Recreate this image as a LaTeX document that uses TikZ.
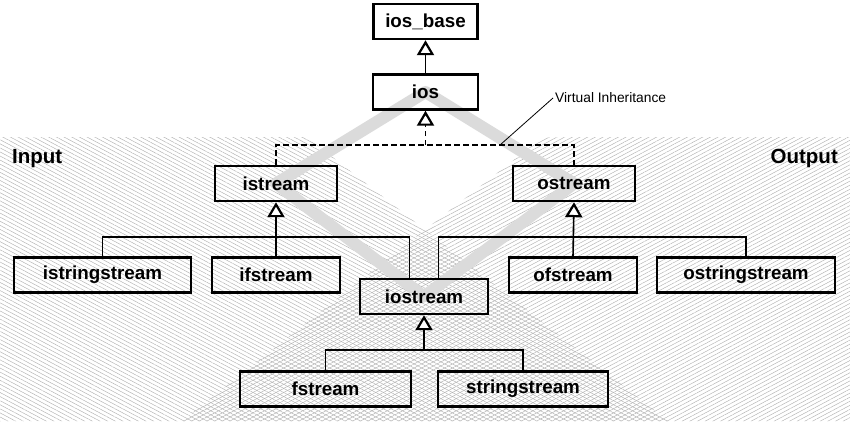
\documentclass[tikz,border=0pt]{standalone}
\usepackage{fontspec}
\setmainfont{Liberation Sans}
\usetikzlibrary{arrows.meta,patterns.meta,backgrounds}
\begin{document}
\begin{tikzpicture}[x=1pt,y=-1pt,
  box/.style={draw, line width=2.4pt, minimum height=35pt, inner sep=0pt,
    font=\fontsize{18.8}{20}\selectfont\bfseries},
  conn/.style={line width=1.6pt},
  tri/.tip={Triangle[open,fill=white,length=15pt,width=17pt,line width=2.2pt]},
  inh/.style={line width=1.6pt, -tri},
  vdash/.style={line width=1.6pt, dash pattern=on 5.5pt off 3.5pt},
  band/.style={draw=black!14, line width=12pt, line join=round},
  side/.style={font=\fontsize{20.5}{22}\selectfont\bfseries, inner sep=0pt},
  inhatch/.style={pattern={Lines[angle=-28,distance=3.6pt,line width=0.45pt]}, pattern color=black!30},
  outhatch/.style={pattern={Lines[angle=28,distance=3.6pt,line width=0.45pt]}, pattern color=black!30}]
\useasboundingbox (0,0) rectangle (850,421);

% hatched halves
\begin{scope}[on background layer]
  \fill[white] (0,0) rectangle (850,421);
  \path[inhatch] (0,137) -- (307,137) -- (668,421) -- (0,421) -- cycle;
  \path[outhatch] (850,137) -- (543,137) -- (182,421) -- (850,421) -- cycle;
\end{scope}

% boxes
\node[box, minimum width=104pt] (iosbase) at (425.5,21.5) {ios\_base};
\node[box, minimum width=105pt] (ios) at (425.5,92) {ios};
\node[box, minimum width=122pt] (istream) at (276,183.5) {istream};
\node[box, minimum width=122pt] (ostream) at (574,183.5) {ostream};
\node[box, minimum width=177pt] (istringstream) at (102.5,275) {istringstream};
\node[box, minimum width=128pt] (ifstream) at (276,275) {ifstream};
\node[box, minimum width=128pt] (ofstream) at (573,275) {ofstream};
\node[box, minimum width=178pt] (ostringstream) at (746,275) {ostringstream};
\node[box, minimum width=128pt] (iostream) at (424,296.5) {iostream};
\node[box, minimum width=171pt] (fstream) at (325.5,389) {fstream};
\node[box, minimum width=170pt] (stringstream) at (523,389) {stringstream};

% side labels
\node[side, anchor=base west] (input) at (12,163) {Input};
\node[side, anchor=base east] (output) at (838,163) {Output};

% diamond band
\begin{scope}[on background layer]
  \draw[band] (ios.center) -- (istream.center) -- (iostream.center) -- (ostream.center) -- cycle;
\end{scope}

% inheritance ios -> ios_base
\draw[inh] (ios.north) -- (iosbase.south);

% virtual inheritance
\coordinate (vj) at (425.5,145);
\draw[vdash] (istream.north) |- (vj) -| (ostream.north);
\draw[vdash, -tri] (vj) -- (ios.south);
\node[anchor=west, inner sep=2pt, font=\fontsize{13.8}{15}\selectfont] (vlab) at (553,98) {Virtual Inheritance};
\coordinate (vp) at (500,145);
\draw[line width=0.8pt] (vp) -- (vlab.west);

% istream family
\coordinate (ibar) at (276,237);
\draw[inh] (ifstream.north) -- (istream.south);
\draw[conn] (istringstream.north) |- (ibar) -| ([xshift=-14.5pt]iostream.north);

% ostream family
\coordinate (obar) at (573,237);
\draw[inh] (ofstream.north) -- (ostream.south);
\draw[conn] (ostringstream.north) |- (obar) -| ([xshift=14.5pt]iostream.north);

% iostream family
\coordinate (fbar) at (424,350);
\draw[conn] (fstream.north) |- (fbar) -| (stringstream.north);
\draw[inh] (fbar) -- (iostream.south);
\end{tikzpicture}
\end{document}
